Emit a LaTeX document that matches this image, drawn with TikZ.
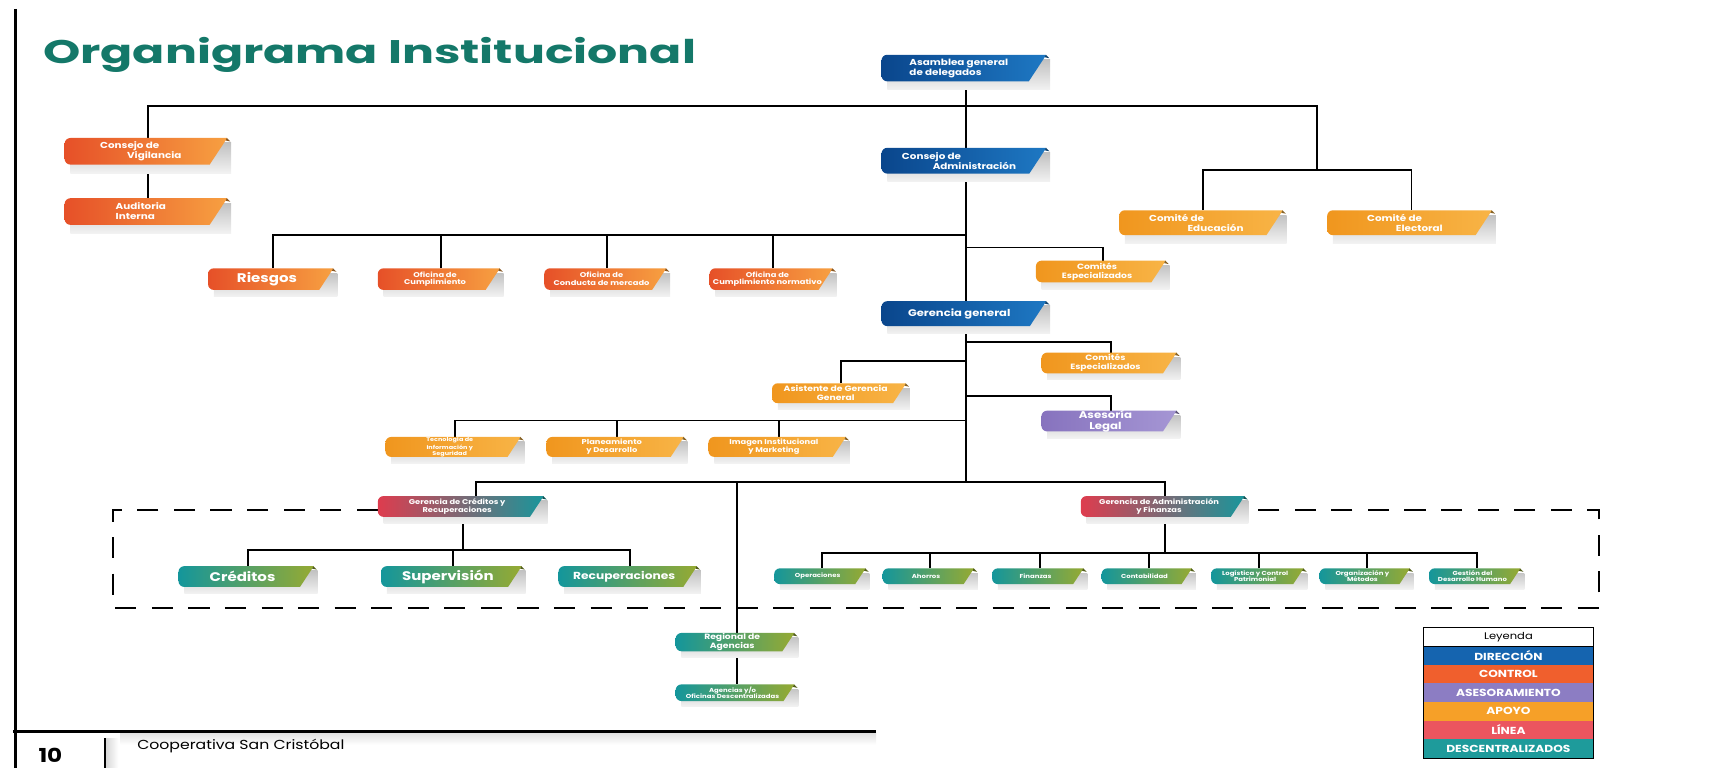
\documentclass[tikz,border=0pt]{standalone}
\usepackage{fontspec}
\setmainfont{Poppins}[FakeStretch=1.2]
\newfontfamily\titulofont{Poppins}[FakeStretch=1.45]
\usetikzlibrary{calc}

\definecolor{titulo}{RGB}{20,120,105}
\definecolor{dirA}{RGB}{10,70,140}
\definecolor{dirB}{RGB}{30,120,195}
\definecolor{ctlA}{RGB}{230,80,40}
\definecolor{ctlB}{RGB}{247,160,65}
\definecolor{apoA}{RGB}{240,150,30}
\definecolor{apoB}{RGB}{248,180,70}
\definecolor{aseA}{RGB}{135,115,190}
\definecolor{aseB}{RGB}{165,150,212}
\definecolor{linA}{RGB}{222,60,78}
\definecolor{linB}{RGB}{25,150,155}
\definecolor{desA}{RGB}{20,150,155}
\definecolor{desB}{RGB}{150,170,50}
\definecolor{ley1}{RGB}{21,100,175}
\definecolor{ley2}{RGB}{240,95,45}
\definecolor{ley3}{RGB}{140,125,195}
\definecolor{ley4}{RGB}{246,160,40}
\definecolor{ley5}{RGB}{235,85,95}
\definecolor{ley6}{RGB}{30,155,155}

\pgfdeclarelayer{fondo}
\pgfsetlayers{fondo,main}

% caja: nombre, x1, y1, x2, y2, color, letra, texto
\newcommand{\caja}[8]{%
  \node[#6, anchor=north west, minimum width={(#4-#2)*0.02cm}, minimum height={(#5-#3)*0.02cm}] (#1) at (#2,#3) {};
  \node[txt, #7] (#1-t) at ({#2+(#4-#2-0.4*(#5-#3))/2},{#3+0.38*(#5-#3)}) {#8};
}

\begin{document}
\begin{tikzpicture}[x=0.02cm, y=-0.02cm]
    \tikzset{caja/.style 2 args={inner sep=0pt, outer sep=0pt, path picture={
        \shade[top color=gray!55, bottom color=gray!10]
          let \p1=(path picture bounding box.north west), \p2=(path picture bounding box.south east) in
          (\x1+3pt,\y1-2.5pt) rectangle (\p2);
        \shade[left color=#1, right color=#2]
          let \p1=(path picture bounding box.north west), \p2=(path picture bounding box.south east), \n1={\y1-\y2} in
          (\x2-2pt,\y1) -- (\x2-2pt-0.5*\n1,\y1-0.76*\n1) [rounded corners=3pt] -- (\x1,\y1-0.76*\n1) -- (\x1,\y1) [sharp corners] -- cycle;
        \fill[#2!55!black]
          let \p1=(path picture bounding box.north west), \p2=(path picture bounding box.south east) in
          (\x2-2.2pt,\y1) -- (\x2-0.4pt,\y1-1.8pt) -- (\x2-2.8pt,\y1-1.3pt) -- cycle;
      }}}
    \tikzstyle{direccion} = [caja={dirA}{dirB}]
    \tikzstyle{control} = [caja={ctlA}{ctlB}]
    \tikzstyle{apoyo} = [caja={apoA}{apoB}]
    \tikzstyle{asesor} = [caja={aseA}{aseB}]
    \tikzstyle{linea} = [caja={linA}{linB}]
    \tikzstyle{descen} = [caja={desA}{desB}]
    \tikzstyle{txt} = [text=white, font=\bfseries\fontsize{4.5}{5.2}\selectfont, align=center, inner sep=0pt]
    \tikzstyle{izq} = [align=left]
    \tikzstyle{grande} = [font=\bfseries\fontsize{6.5}{7.2}\selectfont]
    \tikzstyle{media} = [font=\bfseries\fontsize{4}{4.6}\selectfont]
    \tikzstyle{chica} = [font=\bfseries\fontsize{3.6}{4.1}\selectfont]
    \tikzstyle{mini} = [font=\bfseries\fontsize{3}{3.4}\selectfont]
    \tikzstyle{conector} = [line width=1pt]
    \tikzstyle{marco} = [line width=1pt, dash pattern=on 11pt off 8pt]
    \tikzstyle{ley} = [minimum width=3.1cm, minimum height=0.34cm, inner sep=0pt, text=white, font=\bfseries\fontsize{5.3}{6}\selectfont]

    \useasboundingbox (0,0) rectangle (1568,701);

    % titulo y margen
    \draw[line width=1.7pt] (14,8) -- (14,701);
    \node[anchor=west, text=titulo, font=\titulofont\bfseries\fontsize{17}{20}\selectfont, inner sep=0pt] (titulo) at (39,50) {Organigrama Institucional};

    % direccion
    \caja{asamblea}{805}{50}{959}{82}{direccion}{izq}{Asamblea general\\de delegados}
    \caja{cadmin}{805}{135}{959}{166}{direccion}{izq}{Consejo de\\\hspace*{16pt}Administración}
    \caja{gerencia}{805}{275}{959}{305}{direccion}{font=\bfseries\fontsize{5}{6}\selectfont}{Gerencia general}

    % control
    \caja{cvig}{59}{126}{211}{158}{control}{izq}{Consejo de\\\hspace*{14pt}Vigilancia}
    \caja{auditoria}{59}{181}{211}{213}{control}{izq}{Auditoria\\Interna}
    \caja{riesgos}{190}{245}{308}{271}{control}{grande}{Riesgos}
    \caja{ofcump}{345}{245}{460}{271}{control}{chica}{Oficina de\\Cumplimiento}
    \caja{ofcond}{497}{245}{612}{271}{control}{chica}{Oficina de\\Conducta de mercado}
    \caja{ofnorm}{648}{245}{764}{271}{control}{chica}{Oficina de\\Cumplimiento normativo}

    % apoyo
    \caja{comedu}{1022}{192}{1175}{222}{apoyo}{izq}{Comité de\\\hspace*{20pt}Educación}
    \caja{comele}{1212}{192}{1366}{222}{apoyo}{izq}{Comité de\\\hspace*{15pt}Electoral}
    \caja{comesp1}{946}{238}{1068}{264}{apoyo}{media}{Comités\\Especializados}
    \caja{comesp2}{951}{322}{1078}{347}{apoyo}{media}{Comités\\Especializados}
    \caja{asistente}{705}{350}{831}{374}{apoyo}{media}{Asistente de Gerencia\\General}
    \caja{asesoria}{951}{375}{1078}{400}{asesor}{font=\bfseries\fontsize{5.1}{5.5}\selectfont}{Asesoría\\Legal}
    \caja{tecno}{352}{399}{479}{423}{apoyo}{font=\bfseries\fontsize{2.8}{3.1}\selectfont}{Tecnología de\\Información y\\Seguridad}
    \caja{plan}{499}{399}{628}{423}{apoyo}{chica}{Planeamiento\\y Desarrollo}
    \caja{imagen}{647}{399}{776}{423}{apoyo}{chica}{Imagen Institucional\\y Marketing}

    % linea
    \caja{gcred}{345}{453}{500}{478}{linea}{chica}{Gerencia de Créditos y\\Recuperaciones}
    \caja{gadm}{987}{453}{1140}{478}{linea}{chica}{Gerencia de Administración\\y Finanzas}

    % descentralizados
    \caja{creditos}{163}{517}{290}{542}{descen}{grande}{Créditos}
    \caja{superv}{348}{517}{480}{542}{descen}{grande}{Supervisión}
    \caja{recup}{510}{517}{640}{542}{descen}{font=\bfseries\fontsize{5.3}{6}\selectfont}{Recuperaciones}
    \caja{oper}{707}{519}{794}{538}{descen}{mini}{Operaciones}
    \caja{ahorros}{806}{519}{893}{538}{descen}{mini}{Ahorros}
    \caja{finanzas}{906}{519}{993}{538}{descen}{mini}{Finanzas}
    \caja{conta}{1006}{519}{1092}{538}{descen}{mini}{Contabilidad}
    \caja{logis}{1106}{519}{1194}{538}{descen}{mini}{Logística y Control\\Patrimonial}
    \caja{organ}{1205}{519}{1291}{538}{descen}{mini}{Organización y\\Métodos}
    \caja{gestion}{1305}{519}{1392}{538}{descen}{mini}{Gestión del\\Desarrollo Humano}
    \caja{regional}{617}{578}{729}{600}{descen}{media}{Regional de\\Agencias}
    \caja{agencias}{617}{625}{729}{645}{descen}{mini}{Agencias y/o\\Oficinas Descentralizadas}

    % puntos de las barras
    \coordinate (busA) at (882,97);
    \coordinate (ncom) at (1203,155);
    \coordinate (busB) at (882,215);
    \coordinate (busC) at (882,226);
    \coordinate (busF) at (882,312);
    \coordinate (busG) at (882,330);
    \coordinate (busH) at (882,362);
    \coordinate (busI) at (882,384);
    \coordinate (busD) at (882,440);
    \coordinate (busJ) at (422,502);
    \coordinate (busK) at (1062,505);

    \begin{pgfonlayer}{fondo}
    \draw[conector] (asamblea) -- (cadmin);
    \draw[conector] (cadmin) -- (gerencia);
    \draw[conector] (gerencia) -- (busD);
    \draw[conector] (cvig) |- (busA) -| (ncom);
    \draw[conector] (cvig) -- (auditoria);
    \draw[conector] (comedu) |- (ncom) -| (comele);
    \draw[conector] (riesgos) |- (busB);
    \draw[conector] (ofcump) -- (ofcump |- busB);
    \draw[conector] (ofcond) -- (ofcond |- busB);
    \draw[conector] (ofnorm) -- (ofnorm |- busB);
    \draw[conector] (comesp1) |- (busC);
    \draw[conector] (comesp2) |- (busF);
    \draw[conector] (asistente) |- (busG);
    \draw[conector] (asesoria) |- (busH);
    \draw[conector] (tecno) |- (busI);
    \draw[conector] (plan) -- (plan |- busI);
    \draw[conector] (imagen) -- (imagen |- busI);
    \draw[conector] ([xshift=0.24cm]gcred.north) |- (busD) -| (gadm);
    \draw[conector] (regional) -- (regional |- busD);
    \draw[conector] (regional) -- (agencias);
    \draw[conector] (gcred) -- (gcred |- busJ);
    \draw[conector] (creditos) |- (busJ) -| (recup);
    \draw[conector] (superv) -- (superv |- busJ);
    \draw[conector] (gadm) -- (gadm |- busK);
    \draw[conector] (oper) |- (busK) -| (gestion);
    \draw[conector] (ahorros) -- (ahorros |- busK);
    \draw[conector] (finanzas) -- (finanzas |- busK);
    \draw[conector] (conta) -- (conta |- busK);
    \draw[conector] (logis) -- (logis |- busK);
    \draw[conector] (organ) -- (organ |- busK);
    % marco de linea
    \draw[marco] (gcred.west) -- (103,465.5) -- (103,555) -- (1460,555) -- (1460,465.5) -- (gadm.east);
    \end{pgfonlayer}

    % leyenda
    \node[ley, fill=white, text=black, font=\fontsize{5}{6}\selectfont] (leyenda) at (1377.5,581.5) {Leyenda};
    \node[ley, fill=ley1] (ldir) at (1377.5,598.5) {DIRECCIÓN};
    \node[ley, fill=ley2] (lctl) at (1377.5,615.5) {CONTROL};
    \node[ley, fill=ley3] (lase) at (1377.5,632.5) {ASESORAMIENTO};
    \node[ley, fill=ley4] (lapo) at (1377.5,649.5) {APOYO};
    \node[ley, fill=ley5] (llin) at (1377.5,666.5) {LÍNEA};
    \node[ley, fill=ley6] (ldes) at (1377.5,683.5) {DESCENTRALIZADOS};
    \draw[line width=0.6pt] (leyenda.north west) rectangle (ldes.south east);
    \draw[line width=0.4pt] (leyenda.south west) -- (leyenda.south east);

    % pie de pagina
    \shade[top color=gray!25, bottom color=white] (110,669) rectangle (800,680);
    \draw[line width=1.1pt] (12,668) -- (800,668);
    \node[font=\bfseries\fontsize{10}{12}\selectfont, inner sep=0pt] (pagina) at (46,690) {10};
    \shade[left color=gray!30, right color=white] (97,674) rectangle (108,701);
    \draw[line width=1.3pt] (96,674) -- (96,701);
    \node[anchor=west, font=\fontsize{6.8}{8}\selectfont, inner sep=0pt] (coop) at (125,681) {Cooperativa San Cristóbal};
\end{tikzpicture}
\end{document}
